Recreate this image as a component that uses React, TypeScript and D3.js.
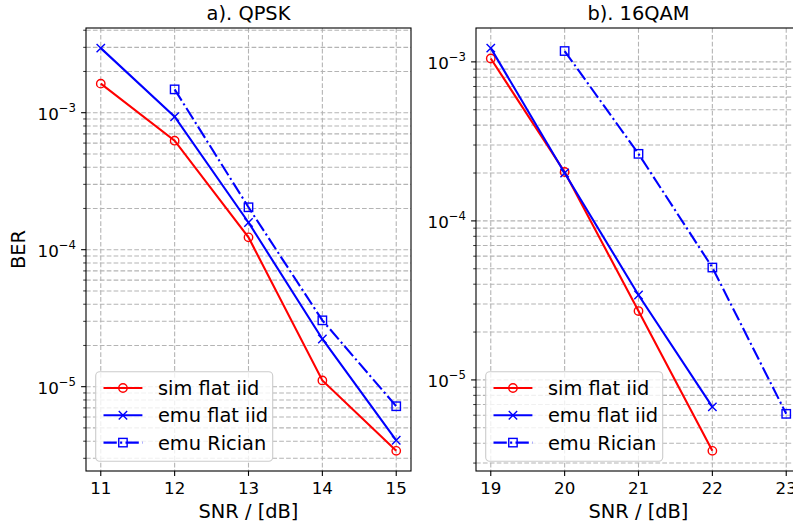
import React from "react";
import * as d3 from "d3";

const FONT = "DejaVu Sans";

// QPSK panel
const qpskSnr = [11, 12, 13, 14, 15];
const qpskSimFlat = [1.63e-3, 6.25e-4, 1.23e-4, 1.11e-5, 3.4e-6];
const qpskEmuFlat = [2.96e-3, 9.35e-4, 1.58e-4, 2.23e-5, 4.06e-6];
const qpskRicianSnr = [12, 13, 14, 15];
const qpskEmuRician = [1.48e-3, 2.04e-4, 3.05e-5, 7.2e-6];

// 16QAM panel
const qamSnr = [19, 20, 21, 22];
const qamSimFlat = [1.05e-3, 2.03e-4, 2.71e-5, 3.58e-6];
const qamEmuFlat = [1.22e-3, 2.0e-4, 3.42e-5, 6.77e-6];
const qamRicianSnr = [20, 21, 22, 23];
const qamEmuRician = [1.17e-3, 2.64e-4, 5.09e-5, 6.12e-6];

const legendLabels = ["sim flat iid", "emu flat iid", "emu Rician"];
const xTicksQpsk = [11, 12, 13, 14, 15];
const xTicksQam = [19, 20, 21, 22, 23];

const styles = [
  { color: "#ff0000", marker: "o", dash: null },
  { color: "#0000ff", marker: "x", dash: null },
  { color: "#0000ff", marker: "s", dash: "13.3,3.3,2.1,3.3" },
];

const TOP = 28;
const BOTTOM = 471;
const WIDTH = 325;
const MS = 4.2;

const Marker = ({ type, x, y, color }) => {
  if (type === "o") {
    return <circle cx={x} cy={y} r={MS} fill="none" stroke={color} strokeWidth={1.4} />;
  }
  if (type === "x") {
    return (
      <path
        d={`M${x - MS},${y - MS}L${x + MS},${y + MS}M${x - MS},${y + MS}L${x + MS},${y - MS}`}
        stroke={color}
        strokeWidth={1.4}
      />
    );
  }
  return <rect x={x - MS} y={y - MS} width={MS * 2} height={MS * 2} fill="none" stroke={color} strokeWidth={1.4} />;
};

const logPad = (vals) => {
  const lo = Math.log10(d3.min(vals));
  const hi = Math.log10(d3.max(vals));
  const p = (hi - lo) * 0.05;
  return [Math.pow(10, lo - p), Math.pow(10, hi + p)];
};

const Panel = ({ left, title, xTicks, series, ylabel }) => {
  const allX = series.flatMap((s) => s.x);
  const xmin = d3.min(allX);
  const xmax = d3.max(allX);
  const xpad = (xmax - xmin) * 0.05;
  const x = d3.scaleLinear().domain([xmin - xpad, xmax + xpad]).range([left, left + WIDTH]);
  const y = d3.scaleLog().domain(logPad(series.flatMap((s) => s.y))).range([BOTTOM, TOP]);

  const [d0, d1] = y.domain();
  const major = [];
  const minor = [];
  for (let e = Math.floor(Math.log10(d0)); e <= Math.ceil(Math.log10(d1)); e++) {
    for (let k = 1; k < 10; k++) {
      const v = k * Math.pow(10, e);
      if (v < d0 || v > d1) continue;
      (k === 1 ? major : minor).push({ v, e });
    }
  }

  const line = d3
    .line()
    .x((d) => x(d[0]))
    .y((d) => y(d[1]));

  const grid = { stroke: "#b4b4b4", strokeWidth: 1.1, strokeDasharray: "4.7,2.2" };

  const lx = left + 9.7;
  const lw = 177;
  const lh = 89.6;
  const ly = BOTTOM - 9.7 - lh;

  return (
    <g>
      {[...major, ...minor].map((t, i) => (
        <line key={`gy${i}`} x1={left} x2={left + WIDTH} y1={y(t.v)} y2={y(t.v)} {...grid} />
      ))}
      {xTicks.map((t) => (
        <line key={`gx${t}`} x1={x(t)} x2={x(t)} y1={TOP} y2={BOTTOM} {...grid} />
      ))}

      {series.map((s, i) => {
        const pts = s.x.map((v, j) => [v, s.y[j]]);
        const st = styles[i];
        return (
          <g key={`s${i}`}>
            <path d={line(pts)} fill="none" stroke={st.color} strokeWidth={2.1} strokeDasharray={st.dash || undefined} />
            {pts.map((p, j) => (
              <Marker key={j} type={st.marker} x={x(p[0])} y={y(p[1])} color={st.color} />
            ))}
          </g>
        );
      })}

      <rect x={left} y={TOP} width={WIDTH} height={BOTTOM - TOP} fill="none" stroke="#000" strokeWidth={1.1} />

      {xTicks.map((t) => (
        <g key={`tx${t}`}>
          <line x1={x(t)} x2={x(t)} y1={BOTTOM} y2={BOTTOM + 4.9} stroke="#000" strokeWidth={1.1} />
          <text x={x(t)} y={BOTTOM + 22.5} textAnchor="middle" fontSize={16.7} fontFamily={FONT}>
            {t}
          </text>
        </g>
      ))}
      {minor.map((t, i) => (
        <line key={`my${i}`} x1={left - 2.8} x2={left} y1={y(t.v)} y2={y(t.v)} stroke="#000" strokeWidth={0.8} />
      ))}
      {major.map((t) => (
        <g key={`ty${t.e}`}>
          <line x1={left - 4.9} x2={left} y1={y(t.v)} y2={y(t.v)} stroke="#000" strokeWidth={1.1} />
          <text x={left - 10} y={y(t.v) + 7} textAnchor="end" fontSize={16.7} fontFamily={FONT}>
            10
            <tspan fontSize={11.7} dy={-8}>
              {"\u2212" + Math.abs(t.e)}
            </tspan>
          </text>
        </g>
      ))}

      <text x={left + WIDTH / 2} y={20} textAnchor="middle" fontSize={19.4} fontFamily={FONT}>
        {title}
      </text>
      <text x={left + WIDTH / 2} y={518} textAnchor="middle" fontSize={19.4} fontFamily={FONT}>
        SNR / [dB]
      </text>
      {ylabel && (
        <text
          transform={`translate(25,${(TOP + BOTTOM) / 2}) rotate(-90)`}
          textAnchor="middle"
          fontSize={19.4}
          fontFamily={FONT}
        >
          {ylabel}
        </text>
      )}

      <rect x={lx} y={ly} width={lw} height={lh} rx={4} fill="#fff" fillOpacity={0.8} stroke="#cccccc" strokeWidth={1.1} />
      {legendLabels.map((lab, i) => {
        const st = styles[i];
        const ry = ly + 16.3 + i * 27.3;
        const hx = lx + 7.8;
        return (
          <g key={lab}>
            <line x1={hx} x2={hx + 38.9} y1={ry} y2={ry} stroke={st.color} strokeWidth={2.1} strokeDasharray={st.dash || undefined} />
            <Marker type={st.marker} x={hx + 19.45} y={ry} color={st.color} />
            <text x={hx + 54.4} y={ry + 7} fontSize={19.4} fontFamily={FONT}>
              {lab}
            </text>
          </g>
        );
      })}
    </g>
  );
};

const App = () => {
  const qpskSeries = [
    { x: qpskSnr, y: qpskSimFlat },
    { x: qpskSnr, y: qpskEmuFlat },
    { x: qpskRicianSnr, y: qpskEmuRician },
  ];
  const qamSeries = [
    { x: qamSnr, y: qamSimFlat },
    { x: qamSnr, y: qamEmuFlat },
    { x: qamRicianSnr, y: qamEmuRician },
  ];
  return (
    <div style={{ position: "absolute", left: 0, top: 0, width: 793, height: 529, overflow: "hidden" }}>
      <svg width={793} height={529} style={{ display: "block", background: "#fff" }}>
        <Panel left={86} title="a). QPSK" xTicks={xTicksQpsk} series={qpskSeries} ylabel="BER" />
        <Panel left={476} title="b). 16QAM" xTicks={xTicksQam} series={qamSeries} ylabel={null} />
      </svg>
    </div>
  );
};

export default App;
